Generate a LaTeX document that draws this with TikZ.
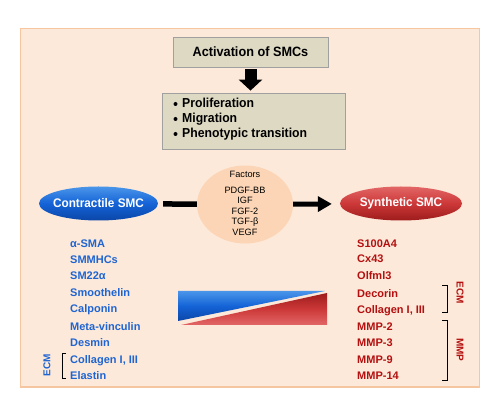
\documentclass[tikz,border=0pt]{standalone}
\usepackage{fontspec}
\setmainfont{Liberation Sans}
\newfontfamily\condfont[FakeStretch=0.94]{Liberation Sans}
\usetikzlibrary{arrows.meta,shapes.geometric}
\definecolor{bgfill}{HTML}{FDE9D9}
\definecolor{bgline}{HTML}{F5C6A0}
\definecolor{boxfill}{HTML}{DDD9C3}
\definecolor{boxline}{HTML}{A0A0A0}
\definecolor{factfill}{HTML}{FBD5B5}
\definecolor{cblue}{HTML}{1E64D2}
\definecolor{cred}{HTML}{B41010}
\definecolor{bluetop}{HTML}{4A95EA}
\definecolor{bluemid}{HTML}{1463D6}
\definecolor{bluebot}{HTML}{0B46A8}
\definecolor{redtop}{HTML}{E26666}
\definecolor{redmid}{HTML}{CC3838}
\definecolor{redbot}{HTML}{9E1C1C}
\tikzset{
  graybox/.style={draw=boxline, fill=boxfill, line width=0.8pt, inner sep=0pt},
  bultext/.style={anchor=base west, inner sep=0pt, font=\condfont\bfseries\fontsize{13}{15}\selectfont},
  cell/.style={ellipse, inner sep=0pt, text=white, font=\condfont\bfseries\fontsize{12.5}{14}\selectfont},
  bluelist/.style={anchor=base west, inner sep=0pt, text=cblue, font=\bfseries\fontsize{11}{13}\selectfont},
  redlist/.style={anchor=base west, inner sep=0pt, text=cred, font=\bfseries\fontsize{11}{13}\selectfont},
  sidelabel/.style={inner sep=0pt, font=\bfseries\fontsize{10}{12}\selectfont},
  bracketline/.style={draw=black, line width=0.8pt},
}
\begin{document}
\begin{tikzpicture}[x=1pt,y=-1pt]
\useasboundingbox (0,0) rectangle (499,403);
\fill[white] (0,0) rectangle (499,403);
\draw[draw=bgline, fill=bgfill, line width=1.5pt] (20.5,28.5) rectangle (479.5,387);

% top boxes
\node[graybox, minimum width=155pt, minimum height=30pt,
      font=\condfont\bfseries\fontsize{13.5}{15}\selectfont] (act) at (250.5,52) {Activation of SMCs};
\node[graybox, minimum width=183pt, minimum height=56pt] (bul) at (253.5,121) {};
\fill (175.5,104) circle (2pt);
\fill (175.5,119) circle (2pt);
\fill (175.5,134) circle (2pt);
\node[bultext] (b1) at (182,108) {Proliferation};
\node[bultext] (b2) at (182,123) {Migration};
\node[bultext] (b3) at (182,138) {Phenotypic transition};
\draw[line width=12pt, -{Triangle[length=11pt 0 0, width=23pt 0 0]},
      shorten <=2pt, shorten >=2pt] (act.south) -- (act.south |- bul.north);

% cells and factors
\node[cell, minimum width=119pt, minimum height=34pt,
      top color=bluetop, bottom color=bluebot, middle color=bluemid] (con) at (98.5,203.5)
      {\makebox[0pt]{Contractile SMC}};
\node[cell, minimum width=122pt, minimum height=34pt,
      top color=redtop, bottom color=redbot, middle color=redmid] (syn) at (401,203.5)
      {\makebox[0pt]{Synthetic SMC}};
\node[ellipse, fill=factfill, minimum width=96pt, minimum height=78pt, inner sep=0pt] (fac) at (245,204.5) {};
\node[inner sep=0pt, align=center, font=\fontsize{9.2}{10.5}\selectfont] (factxt) at (245,203.5)
  {Factors\\[5pt]PDGF-BB\\IGF\\FGF-2\\TGF-β\\VEGF};
\draw[line width=5.5pt, shorten <=5pt] (con) -- (fac);
\draw[line width=5pt, -{Triangle[length=14pt 0 0, width=15pt 0 0]}, shorten >=8pt] (fac) -- (syn);

% wedge
\shade[top color=bluetop, bottom color=bluebot, middle color=bluemid]
  (178,291) -- (325,291) -- (178,321) -- cycle;
\shade[top color=redbot, bottom color=redtop, middle color=redmid]
  (181,325) -- (327,325) -- (327,293) -- cycle;

% blue list
\node[bluelist] (c1) at (70,247.5) {α-SMA};
\node[bluelist] (c2) at (70,263.5) {SMMHCs};
\node[bluelist] (c3) at (70,280) {SM22α};
\node[bluelist] (c4) at (70,296.5) {Smoothelin};
\node[bluelist] (c5) at (70,313) {Calponin};
\node[bluelist] (c6) at (70,331) {Meta-vinculin};
\node[bluelist] (c7) at (70,347) {Desmin};
\node[bluelist] (c8) at (70,363.5) {Collagen I, III};
\node[bluelist] (c9) at (70,380) {Elastin};
\draw[bracketline] (65.5,353) -- (62,353) -- (62,378) -- (65.5,378);
\node[sidelabel, text=cblue, rotate=90] (ecml) at (47,365) {ECM};

% red list
\node[redlist] (s1) at (357,247.5) {S100A4};
\node[redlist] (s2) at (357,263) {Cx43};
\node[redlist] (s3) at (357,280) {Olfml3};
\node[redlist] (s4) at (357,297.5) {Decorin};
\node[redlist] (s5) at (357,313.5) {Collagen I, III};
\node[redlist] (s6) at (357,330.5) {MMP-2};
\node[redlist] (s7) at (357,347) {MMP-3};
\node[redlist] (s8) at (357,363.5) {MMP-9};
\node[redlist] (s9) at (357,380) {MMP-14};
\draw[bracketline] (442,285) -- (447,285) -- (447,312) -- (442,312);
\draw[bracketline] (442,320) -- (447,320) -- (447,380) -- (442,380);
\node[sidelabel, text=cred, rotate=-90] (ecmr) at (460,293) {ECM};
\node[sidelabel, text=cred, rotate=-90] (mmpr) at (460,350) {MMP};
\end{tikzpicture}
\end{document}
